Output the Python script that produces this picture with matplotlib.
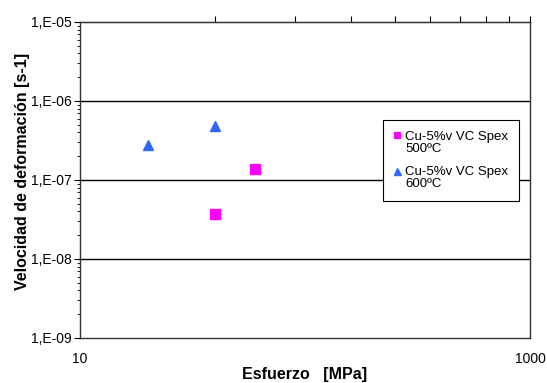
import matplotlib.pyplot as plt
from matplotlib.ticker import FixedLocator, NullFormatter, LogLocator
from matplotlib.legend_handler import HandlerLine2D

plt.rcParams["font.family"] = ["Liberation Sans", "DejaVu Sans"]

# data
stress_500 = [60, 40]
rate_500 = [1.38e-7, 3.7e-8]
stress_600 = [20, 40]
rate_600 = [2.77e-7, 4.8e-7]

label_500 = "Cu-5%v VC Spex\n500ºC"
label_600 = "Cu-5%v VC Spex\n600ºC"

y_ticks = [1e-9, 1e-8, 1e-7, 1e-6, 1e-5]
y_ticklabels = ["1,E-09", "1,E-08", "1,E-07", "1,E-06", "1,E-05"]
x_ticks = [10, 1000]
x_ticklabels = ["10", "1000"]
top_ticks = [10 * k ** 2 for k in range(2, 11)]


class TopLineHandler(HandlerLine2D):
    # put the legend marker next to the first line of a two-line label
    def create_artists(self, legend, orig_handle, xdescent, ydescent,
                       width, height, fontsize, trans):
        artists = super().create_artists(legend, orig_handle, xdescent, ydescent,
                                         width, height, fontsize, trans)
        for a in artists:
            a.set_ydata([y + 0.55 * fontsize for y in a.get_ydata()])
        return artists


fig = plt.figure(figsize=(5.47, 3.83), dpi=100)
ax = fig.add_axes([0.1463, 0.1175, 0.8227, 0.8251])

ax.plot(stress_500, rate_500, linestyle="none", marker="s", markersize=6.5,
        color="#FF00FF", label=label_500)
ax.plot(stress_600, rate_600, linestyle="none", marker="^", markersize=7,
        color="#3366FF", label=label_600)

ax.set_xscale("log")
ax.set_yscale("log")
ax.set_xlim(10, 1000)
ax.set_ylim(1e-9, 1e-5)

ax.set_yticks(y_ticks)
ax.set_yticklabels(y_ticklabels, fontsize=10)
ax.yaxis.set_minor_locator(LogLocator(base=10, subs=range(2, 10)))
ax.yaxis.set_minor_formatter(NullFormatter())
ax.tick_params(axis="y", which="major", length=4, width=0.8, pad=2)
ax.tick_params(axis="y", which="minor", length=2.5, width=0.6)

ax.set_xticks(x_ticks)
ax.set_xticklabels(x_ticklabels, fontsize=10)
ax.xaxis.set_minor_locator(FixedLocator([]))
ax.tick_params(axis="x", which="major", length=0, pad=10)

top = ax.secondary_xaxis("top")
top.set_xticks(top_ticks)
top.xaxis.set_minor_locator(FixedLocator([]))
top.tick_params(axis="x", length=4, width=0.8, labeltop=False)

for y in [1e-8, 1e-7, 1e-6]:
    ax.axhline(y, color="black", linewidth=1.0, zorder=1)

for side in ["left", "right", "top", "bottom"]:
    ax.spines[side].set_color("#333333")
    ax.spines[side].set_linewidth(1.0)

ax.set_xlabel("Esfuerzo   [MPa]", fontsize=11.5, fontweight="bold", labelpad=1)
ax.set_ylabel("Velocidad de deformación [s-1]", fontsize=11.5, fontweight="bold")
ax.yaxis.set_label_coords(-0.112, 0.528)

leg = ax.legend(loc="upper left", bbox_to_anchor=(0.673, 0.69), fontsize=9.5,
                frameon=True, fancybox=False, framealpha=1, edgecolor="black",
                handlelength=0.6, handletextpad=0.3, borderpad=0.8,
                labelspacing=0.9, markerscale=0.72, borderaxespad=0,
                handler_map={plt.Line2D: TopLineHandler()})
leg.get_frame().set_linewidth(0.8)
leg.set_zorder(5)
for t in leg.get_texts():
    t.set_linespacing(1.0)

fig.savefig("out.png", dpi=100)
